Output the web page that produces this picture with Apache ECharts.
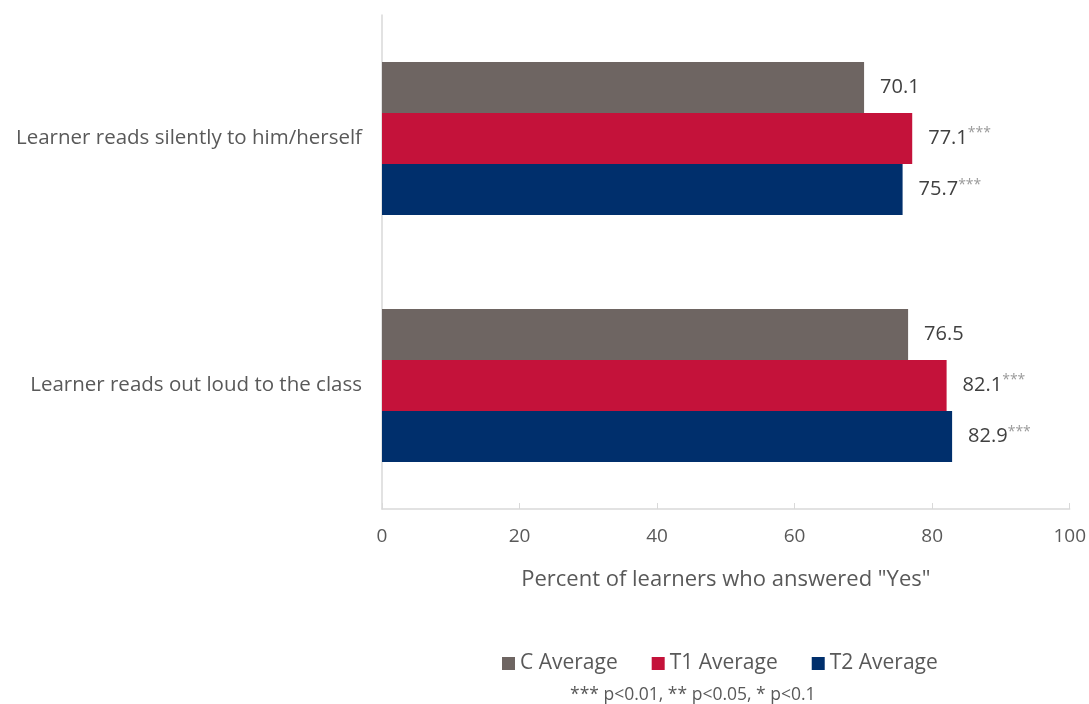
<!DOCTYPE html>
<html>
<head>
<meta charset="utf-8">
<script src="https://cdn.jsdelivr.net/npm/echarts@6/dist/echarts.min.js"></script>
<style>
  html, body { margin: 0; padding: 0; background: #fff; }
  #chart { width: 1089px; height: 704px; }
</style>
</head>
<body>
<div id="chart"></div>
<script>
// 类别（从上到下）
const categories = ["Learner reads silently to him/herself", "Learner reads out loud to the class"];
// 系列名称
const seriesNames = ["C Average", "T1 Average", "T2 Average"];
// 各系列数值
const cValues = [70.1, 76.5];
const t1Values = [77.1, 82.1];
const t2Values = [75.7, 82.9];
// 显著性星号
const cStars = ["", ""];
const t1Stars = ["***", "***"];
const t2Stars = ["***", "***"];
// X轴刻度
const xTicks = [0, 20, 40, 60, 80, 100];

const colors = ["#6E6562", "#C4123A", "#002F6C"];
const fontFamily = "'Open Sans', Lato, sans-serif";

function makeSeries(name, values, stars, color) {
  return {
    name: name,
    type: "bar",
    data: values,
    barGap: "0%",
    barCategoryGap: "38%",
    itemStyle: { color: color },
    label: {
      show: true,
      position: "right",
      distance: 16,
      fontFamily: fontFamily,
      formatter: (p) => {
        const s = stars[p.dataIndex];
        return "{v|" + p.value.toFixed(1) + "}" + (s ? "{s|" + s + "}" : "");
      },
      rich: {
        v: { fontSize: 20, color: "#404040", fontFamily: fontFamily },
        s: { fontSize: 14, color: "#9a9a9a", fontFamily: fontFamily, verticalAlign: "top", padding: [0, 0, 10, 0] },
      },
    },
  };
}

const myChart = echarts.init(document.querySelector("#chart"));
const option = {
  animation: false,
  textStyle: { fontFamily: fontFamily },
  grid: {
    left: 382,
    right: 17,
    top: 15,
    bottom: 195,
  },
  legend: {
    bottom: 25,
    left: 497,
    itemWidth: 13,
    itemHeight: 13,
    itemGap: 34,
    itemStyle: { borderWidth: 0 },
    icon: "rect",
    textStyle: { fontSize: 21, color: "#595959", fontFamily: fontFamily },
    data: seriesNames,
  },
  xAxis: {
    type: "value",
    min: xTicks[0],
    max: xTicks[xTicks.length - 1],
    interval: 20,
    name: 'Percent of learners who answered "Yes"',
    nameLocation: "middle",
    nameGap: 60,
    nameTextStyle: { fontSize: 22, color: "#595959", fontFamily: fontFamily },
    axisLine: { show: true, lineStyle: { color: "#d9d9d9", width: 1.5 } },
    axisTick: { show: true, inside: true, length: 6, lineStyle: { color: "#d9d9d9" } },
    axisLabel: { fontSize: 19, color: "#595959", margin: 18, fontFamily: fontFamily },
    splitLine: { show: false },
  },
  yAxis: {
    type: "category",
    inverse: true,
    data: categories,
    axisLine: { show: true, lineStyle: { color: "#d9d9d9", width: 1.5 } },
    axisTick: { show: false },
    axisLabel: { fontSize: 20.5, color: "#595959", margin: 20, fontFamily: fontFamily },
  },
  graphic: [
    {
      type: "text",
      left: 570,
      bottom: 0,
      style: {
        text: "*** p<0.01, ** p<0.05, * p<0.1",
        fontSize: 17.5,
        fill: "#595959",
        fontFamily: fontFamily,
      },
    },
  ],
  series: [
    makeSeries(seriesNames[0], cValues, cStars, colors[0]),
    makeSeries(seriesNames[1], t1Values, t1Stars, colors[1]),
    makeSeries(seriesNames[2], t2Values, t2Stars, colors[2]),
  ],
};
myChart.setOption(option);
</script>
</body>
</html>
